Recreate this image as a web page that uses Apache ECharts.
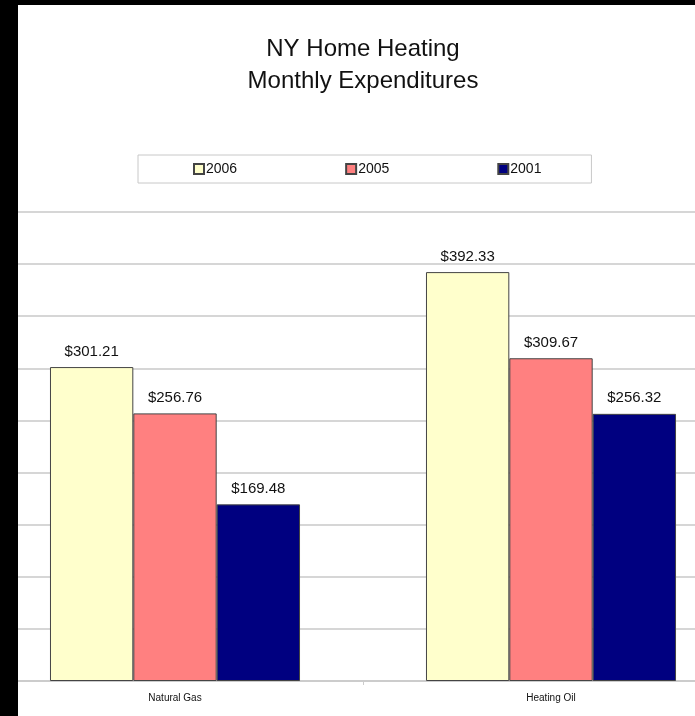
<!DOCTYPE html>
<html>
<head>
<meta charset="utf-8">
<script src="https://cdn.jsdelivr.net/npm/echarts@6/dist/echarts.min.js"></script>
<style>
  html, body { margin: 0; padding: 0; background: #000; width: 695px; height: 716px; overflow: hidden; }
  #wrap { position: absolute; left: 18px; top: 5px; width: 677px; height: 711px; overflow: hidden; background: #fff; }
  #chart { position: absolute; left: -31px; top: 0; width: 752px; height: 711px; }
</style>
</head>
<body>
<div id="wrap"><div id="chart"></div></div>
<script>
const titleLines = ['NY Home Heating', 'Monthly Expenditures'];
const categories = ['Natural Gas', 'Heating Oil'];
const seriesNames = ['2006', '2005', '2001'];
const values2006 = [301.21, 392.33];
const values2005 = [256.76, 309.67];
const values2001 = [169.48, 256.32];
const seriesColors = ['#FFFFCC', '#FF8080', '#000080'];
const yMin = 0, yMax = 450, yStep = 50;

const allValues = [values2006, values2005, values2001];
const chart = echarts.init(document.getElementById('chart'), null, { renderer: 'canvas' });
const font = '"Liberation Sans", Arial, sans-serif';

chart.setOption({
  animation: false,
  backgroundColor: '#fff',
  title: {
    text: titleLines.join('\n'),
    left: 'center',
    top: 23,
    textStyle: { fontFamily: font, fontSize: 24, fontWeight: 'normal', color: '#111', lineHeight: 32 }
  },
  legend: {
    data: seriesNames,
    left: 151,
    top: 150,
    orient: 'horizontal',
    itemWidth: 10,
    itemHeight: 10,
    itemGap: 108,
    padding: [7, 50, 7, 55],
    borderColor: '#c8c8c8',
    borderWidth: 1,
    icon: 'rect',
    textStyle: { fontFamily: font, fontSize: 14, color: '#111', padding: [0, 0, 0, -3] }
  },
  grid: { left: 0, right: 0, top: 207, bottom: 35 },
  xAxis: {
    type: 'category',
    data: categories,
    axisLine: { show: true, lineStyle: { color: '#cccccc', width: 2 } },
    axisTick: { show: true, length: 4, lineStyle: { color: '#cccccc', width: 1 } },
    axisLabel: { fontFamily: font, fontSize: 10, color: '#111', margin: 12 }
  },
  yAxis: {
    type: 'value',
    min: yMin,
    max: yMax,
    interval: yStep,
    axisLabel: { show: false },
    axisLine: { show: false },
    axisTick: { show: false },
    splitLine: { show: true, lineStyle: { color: '#d6d6d6', width: 2 } }
  },
  series: seriesNames.map((name, i) => ({
    name: name,
    type: 'bar',
    data: allValues[i],
    barGap: '0%',
    barCategoryGap: '33.5%',
    itemStyle: { color: seriesColors[i], borderColor: '#444', borderWidth: 1 },
    label: {
      show: true,
      position: 'top',
      distance: 8,
      fontFamily: font,
      fontSize: 15,
      color: '#111',
      formatter: p => '$' + p.value.toFixed(2)
    }
  }))
});
</script>
</body>
</html>
